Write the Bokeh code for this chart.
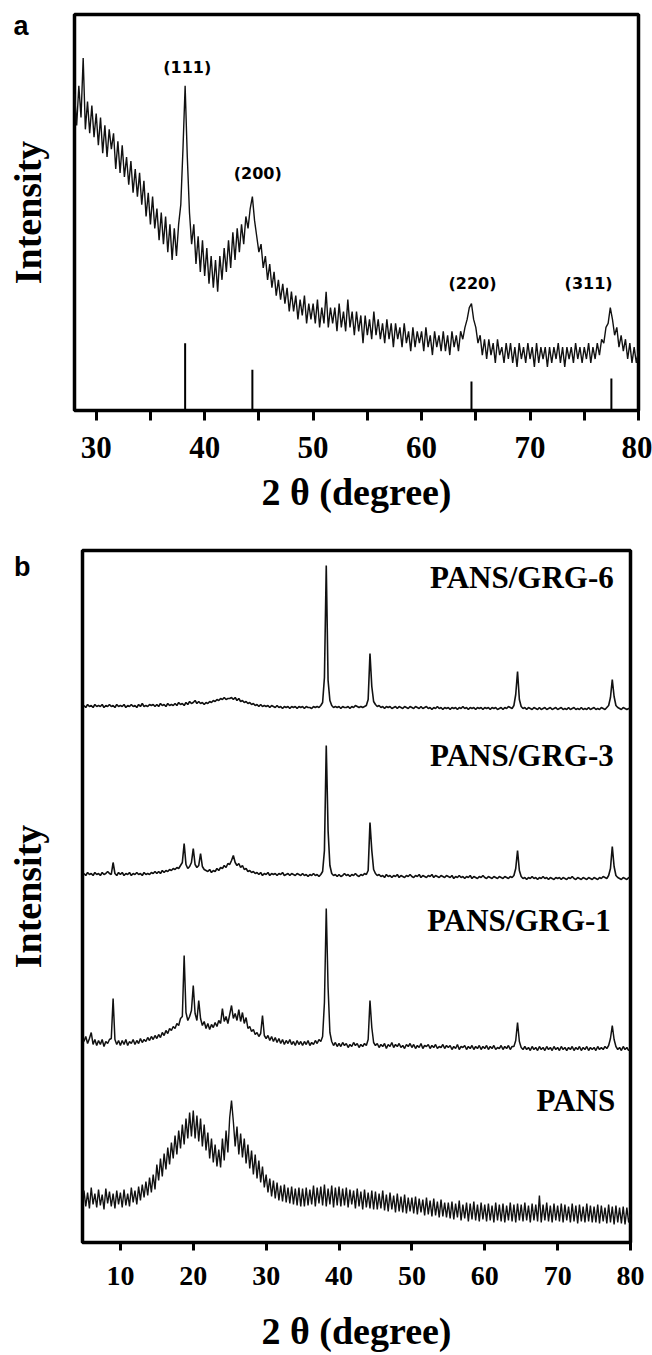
import numpy as np
from bokeh.plotting import figure
from bokeh.models import Range1d, FixedTicker, Label
from bokeh.embed import file_html
from bokeh.resources import INLINE

# ---------------- Panel a data (2theta grid 28..80 step 0.2) ----------------
a_x = np.round(np.arange(28.0, 80.0001, 0.2), 1)
a_y = [
    80, 72, 82, 74, 89, 71, 78, 70, 77, 69,
    75, 67, 74, 65, 72, 64, 71, 66, 70, 61,
    68, 60, 67, 59, 64, 57, 63, 55, 61, 54,
    60, 52, 58, 49, 55, 47, 54, 46, 51, 43,
    50, 42, 49, 40, 47, 38, 46, 39, 47, 52,
    66, 82, 64, 50, 42, 47, 37, 44, 35, 43,
    34, 41, 32, 39, 31, 38, 30, 39, 33, 41,
    35, 43, 36, 45, 38, 46, 40, 47, 42, 49,
    46, 51, 54, 48, 44, 40, 42, 36, 39, 33,
    37, 31, 35, 29, 33, 28, 32, 27, 31, 25,
    30, 25, 29, 23, 28, 24, 29, 22, 27, 23,
    27, 22, 28, 21, 26, 22, 30, 21, 26, 22,
    26, 20, 27, 21, 25, 20, 28, 21, 25, 19,
    25, 20, 24, 17, 24, 19, 23, 18, 25, 19,
    23, 18, 22, 17, 23, 18, 22, 16, 22, 18,
    21, 16, 22, 17, 20, 15, 21, 16, 20, 17,
    20, 15, 21, 16, 19, 14, 20, 16, 19, 15,
    20, 15, 19, 14, 20, 16, 19, 15, 20, 18,
    21, 23, 26, 27, 23, 21, 17, 19, 14, 18,
    13, 18, 14, 17, 12, 18, 14, 16, 12, 17,
    13, 17, 12, 16, 11, 17, 13, 16, 12, 17,
    13, 16, 11, 17, 12, 16, 13, 16, 11, 16,
    12, 16, 13, 17, 12, 16, 11, 16, 13, 16,
    12, 17, 13, 16, 12, 16, 13, 17, 12, 16,
    13, 17, 14, 18, 17, 21, 22, 26, 23, 19,
    21, 16, 19, 15, 18, 13, 17, 12, 16, 12,
    15,
]
# reference (stick) pattern
ref_pos = [38.2, 44.4, 64.6, 77.5]
ref_height = [17.0, 10.3, 7.3, 8.1]
hkl_labels = ["(111)", "(200)", "(220)", "(311)"]
hkl_x = [38.4, 44.9, 64.7, 75.4]
hkl_y = [86.6, 59.8, 32.0, 32.0]

# ---------------- Panel b data (2theta grid 5..80 step 0.25) ----------------
b_x = np.round(np.arange(5.0, 80.0001, 0.25), 2)
grg6 = [
    537, 535, 538, 536, 537, 535, 538, 536, 537, 536, 538, 535, 537, 536, 538, 536, 537, 535, 538, 536,
    537, 536, 538, 535, 537, 536, 538, 536, 537, 535, 538, 536, 539, 536, 537, 536, 538, 537, 538, 536,
    538, 536, 539, 537, 538, 536, 539, 537, 538, 537, 539, 537, 540, 538, 539, 537, 540, 538, 541, 539,
    540, 542, 539, 541, 539, 540, 538, 540, 539, 541, 540, 542, 541, 543, 542, 544, 543, 545, 543, 544,
    544, 545, 543, 545, 542, 544, 541, 542, 540, 541, 539, 540, 538, 539, 537, 538, 536, 538, 536, 537,
    536, 537, 535, 537, 536, 535, 537, 535, 536, 534, 536, 535, 536, 534, 536, 535, 536, 534, 536, 535,
    536, 534, 536, 535, 535, 534, 536, 535, 536, 535, 537, 540, 565, 677, 562, 542, 537, 535, 536, 535,
    536, 534, 536, 535, 535, 536, 534, 536, 535, 537, 536, 535, 536, 535, 536, 537, 543, 589, 556, 541,
    538, 536, 537, 535, 536, 534, 536, 535, 536, 534, 535, 536, 534, 536, 535, 534, 536, 535, 534, 536,
    535, 534, 536, 535, 534, 536, 534, 535, 536, 534, 535, 533, 535, 534, 536, 534, 535, 533, 535, 534,
    535, 533, 535, 534, 535, 533, 535, 534, 536, 534, 535, 533, 535, 534, 535, 533, 535, 534, 535, 533,
    535, 534, 535, 533, 535, 534, 535, 533, 534, 535, 533, 535, 534, 536, 535, 534, 537, 548, 571, 543,
    536, 534, 535, 533, 535, 534, 533, 535, 534, 533, 535, 533, 534, 535, 533, 534, 535, 533, 534, 535,
    533, 534, 535, 533, 534, 533, 535, 533, 534, 535, 533, 534, 533, 535, 533, 534, 533, 535, 533, 534,
    535, 533, 534, 533, 535, 534, 533, 535, 537, 545, 563, 546, 537, 535, 534, 533, 535, 534, 533, 534,
    534,
]
grg3 = [
    369, 367, 370, 368, 369, 367, 370, 368, 369, 367, 370, 368, 369, 371, 369, 368, 380, 369, 367, 370,
    368, 370, 367, 369, 368, 370, 367, 369, 368, 370, 368, 369, 367, 370, 368, 369, 368, 370, 369, 371,
    369, 371, 369, 372, 370, 372, 371, 373, 372, 374, 373, 375, 374, 377, 380, 399, 378, 374, 376, 380,
    394, 378, 375, 377, 389, 376, 373, 372, 371, 373, 370, 372, 371, 374, 372, 375, 374, 377, 375, 379,
    378, 382, 387, 380, 377, 379, 375, 377, 373, 374, 371, 372, 370, 371, 369, 370, 368, 370, 367, 369,
    368, 370, 367, 369, 368, 369, 367, 369, 368, 370, 367, 368, 369, 367, 369, 368, 367, 369, 368, 367,
    369, 367, 368, 366, 368, 367, 369, 367, 368, 366, 368, 371, 392, 497, 412, 377, 369, 367, 368, 366,
    368, 366, 367, 369, 367, 368, 366, 368, 367, 369, 367, 366, 368, 367, 369, 368, 372, 420, 392, 373,
    369, 367, 368, 366, 367, 365, 368, 366, 367, 365, 367, 366, 368, 365, 367, 366, 365, 367, 366, 368,
    366, 365, 367, 366, 368, 365, 367, 366, 365, 367, 366, 368, 365, 367, 366, 365, 367, 366, 365, 367,
    366, 365, 367, 364, 366, 365, 367, 365, 366, 364, 366, 365, 367, 364, 366, 365, 364, 366, 365, 367,
    365, 364, 366, 365, 364, 366, 365, 364, 366, 365, 364, 366, 365, 364, 366, 365, 367, 374, 392, 372,
    366, 364, 365, 363, 365, 364, 366, 364, 365, 363, 365, 364, 366, 364, 365, 363, 365, 364, 363, 365,
    364, 365, 363, 365, 364, 363, 365, 364, 366, 364, 363, 365, 364, 363, 365, 364, 363, 365, 364, 363,
    365, 364, 363, 365, 364, 366, 365, 364, 367, 374, 396, 376, 367, 365, 364, 363, 365, 364, 363, 365,
    364,
]
grg1 = [
    201, 206, 199, 204, 210, 198, 203, 197, 202, 198, 203, 196, 201, 199, 203, 204, 244, 203, 198, 202,
    197, 202, 198, 203, 197, 201, 199, 203, 198, 202, 199, 204, 200, 203, 201, 205, 202, 206, 203, 207,
    204, 208, 205, 210, 207, 212, 209, 214, 212, 216, 214, 219, 217, 224, 226, 287, 230, 222, 226, 232,
    257, 229, 222, 242, 224, 217, 221, 214, 219, 213, 218, 215, 220, 216, 222, 219, 234, 221, 226, 219,
    228, 237, 224, 229, 222, 233, 221, 230, 219, 225, 214, 216, 211, 213, 208, 210, 206, 209, 227, 207,
    204, 207, 202, 206, 201, 205, 200, 204, 199, 203, 198, 202, 199, 203, 198, 201, 197, 202, 198, 201,
    197, 201, 198, 202, 197, 200, 198, 202, 199, 203, 201, 206, 240, 334, 255, 210, 201, 197, 200, 196,
    199, 196, 200, 197, 199, 195, 198, 196, 200, 197, 199, 195, 198, 196, 199, 197, 203, 242, 215, 200,
    197, 199, 195, 198, 196, 199, 194, 198, 196, 200, 195, 198, 196, 199, 195, 197, 194, 198, 196, 199,
    195, 198, 194, 197, 195, 199, 194, 197, 196, 198, 194, 197, 195, 198, 194, 196, 195, 198, 194, 197,
    195, 197, 193, 196, 194, 198, 193, 196, 195, 197, 193, 196, 194, 197, 193, 196, 194, 197, 193, 196,
    194, 197, 193, 196, 194, 197, 193, 195, 194, 197, 193, 196, 194, 197, 193, 196, 196, 202, 220, 201,
    195, 193, 196, 193, 195, 192, 196, 193, 195, 192, 196, 193, 195, 192, 196, 193, 195, 192, 196, 193,
    195, 192, 196, 193, 195, 192, 195, 193, 196, 192, 195, 193, 196, 192, 195, 193, 196, 192, 195, 193,
    195, 192, 196, 193, 195, 193, 196, 194, 197, 204, 217, 203, 196, 193, 195, 192, 196, 193, 195, 192,
    194,
]
pans = [
    52, 36, 50, 34, 55, 38, 49, 35, 53, 37, 48, 33, 54, 39, 51, 36, 49, 34, 52, 38,
    50, 35, 53, 37, 49, 36, 55, 40, 52, 38, 56, 42, 58, 45, 61, 47, 65, 50, 68, 53,
    78, 62, 84, 66, 89, 73, 95, 78, 100, 84, 107, 88, 112, 94, 118, 98, 124, 104, 130, 106,
    132, 104, 127, 101, 124, 96, 118, 92, 110, 84, 104, 80, 98, 76, 93, 75, 104, 82, 112, 90,
    125, 142, 121, 96, 116, 88, 109, 85, 104, 79, 98, 74, 92, 68, 88, 64, 82, 60, 76, 55,
    68, 50, 64, 46, 62, 44, 60, 42, 57, 41, 58, 40, 55, 39, 56, 38, 54, 37, 55, 36,
    54, 36, 55, 37, 53, 38, 57, 36, 55, 39, 56, 37, 58, 36, 54, 38, 57, 35, 55, 37,
    56, 36, 54, 37, 55, 35, 53, 38, 52, 34, 54, 36, 51, 33, 53, 35, 50, 34, 52, 33,
    51, 33, 49, 34, 52, 32, 48, 31, 50, 33, 47, 30, 49, 31, 46, 30, 48, 29, 45, 31,
    45, 29, 46, 28, 44, 30, 43, 27, 45, 28, 42, 26, 44, 27, 41, 25, 43, 26, 40, 25,
    40, 24, 41, 23, 39, 25, 42, 22, 38, 24, 40, 21, 39, 23, 41, 22, 38, 21, 40, 23,
    38, 21, 39, 22, 37, 20, 40, 22, 38, 21, 39, 20, 37, 22, 40, 21, 38, 20, 39, 22,
    38, 21, 40, 22, 37, 20, 39, 22, 38, 21, 47, 20, 38, 22, 40, 21, 37, 20, 39, 22,
    37, 21, 39, 20, 38, 22, 36, 20, 39, 21, 37, 19, 38, 21, 36, 20, 39, 21, 37, 20,
    36, 20, 38, 19, 37, 21, 35, 19, 38, 20, 36, 18, 37, 20, 35, 19, 36, 18, 35, 20,
    28,
]
b_names = ["PANS/GRG-6", "PANS/GRG-3", "PANS/GRG-1", "PANS"]
b_label_x = [77.7, 77.7, 77.3, 77.9]
b_label_y = [665, 487, 322, 142]

a_ticks = [30, 40, 50, 60, 70, 80]
a_minor = [35, 45, 55, 65, 75]
b_ticks = [10, 20, 30, 40, 50, 60, 70, 80]
panel_letter_y = {"a": 97, "b": 676}

SERIF = "Liberation Serif"
LINE = "#111111"
X_TITLE = "2 θ (degree)"
Y_TITLE = "Intensity"


def style(p, letter, letter_y, letter_standoff, ylab_standoff,
          tick_standoff, tick_size, tick_len, xlab_standoff):
    p.outline_line_color = "black"
    p.outline_line_width = 3.5
    p.xgrid.grid_line_color = None
    p.ygrid.grid_line_color = None
    p.background_fill_color = "white"
    p.border_fill_color = "white"

    ax = p.xaxis[0]
    ax.axis_line_color = None
    ax.major_tick_in = 0
    ax.major_tick_out = tick_len
    ax.major_tick_line_width = 3
    ax.major_tick_line_color = "black"
    ax.minor_tick_in = 0
    ax.minor_tick_out = tick_len
    ax.minor_tick_line_width = 3
    ax.minor_tick_line_color = "black"
    ax.major_label_text_font = SERIF
    ax.major_label_text_font_style = "bold"
    ax.major_label_text_font_size = tick_size
    ax.major_label_text_color = "black"
    ax.major_label_standoff = tick_standoff
    ax.axis_label = X_TITLE
    ax.axis_label_text_font = SERIF
    ax.axis_label_text_font_style = "bold"
    ax.axis_label_text_font_size = "38px"
    ax.axis_label_text_line_height = 1.0
    ax.axis_label_text_color = "black"
    ax.axis_label_standoff = xlab_standoff

    ay = p.yaxis[0]
    ay.ticker = FixedTicker(ticks=[letter_y], minor_ticks=[])
    ay.major_label_overrides = {letter_y: letter}
    ay.axis_line_color = None
    ay.major_tick_in = 0
    ay.major_tick_out = 0
    ay.minor_tick_in = 0
    ay.minor_tick_out = 0
    ay.major_label_text_font = "Liberation Sans"
    ay.major_label_text_font_style = "bold"
    ay.major_label_text_font_size = "27px"
    ay.major_label_text_color = "black"
    ay.major_label_standoff = letter_standoff
    ay.axis_label = Y_TITLE
    ay.axis_label_text_font = SERIF
    ay.axis_label_text_font_style = "bold"
    ay.axis_label_text_font_size = "38px"
    ay.axis_label_text_color = "black"
    ay.axis_label_standoff = ylab_standoff


def text(p, x, y, s, size, font=SERIF, align="center"):
    p.add_layout(Label(x=x, y=y, text=s, text_font=font, text_font_size=size,
                       text_font_style="bold", text_align=align, text_baseline="middle",
                       text_color="black"))


# ---------------- Panel a ----------------
pa = figure(width=652, height=526, output_backend="svg", toolbar_location=None,
            x_range=Range1d(28, 80), y_range=Range1d(0, 100),
            min_border_left=74, min_border_right=14, min_border_top=14, min_border_bottom=116)
style(pa, "a", panel_letter_y["a"], 46, -39, 16, "31px", 10, 10)
pa.xaxis.ticker = FixedTicker(ticks=a_ticks, minor_ticks=a_minor)
pa.line(a_x, a_y, line_color=LINE, line_width=1.4)
pa.segment(x0=ref_pos, y0=[0] * len(ref_pos), x1=ref_pos, y1=ref_height,
           line_color="black", line_width=2)
for s, x, y in zip(hkl_labels, hkl_x, hkl_y):
    text(pa, x, y, s, "16px", font="DejaVu Sans")

# ---------------- Panel b ----------------
pb = figure(width=652, height=829, output_backend="svg", toolbar_location=None,
            x_range=Range1d(4.8, 80), y_range=Range1d(0, 692),
            min_border_left=82, min_border_right=22, min_border_top=24, min_border_bottom=113)
style(pb, "b", panel_letter_y["b"], 52, -38, 16, "28px", 8, 22)
pb.xaxis.ticker = FixedTicker(ticks=b_ticks)
for ys, w in ((grg6, 1.6), (grg3, 1.6), (grg1, 1.5), (pans, 1.4)):
    pb.line(b_x, ys, line_color=LINE, line_width=w)
for s, x, y in zip(b_names, b_label_x, b_label_y):
    text(pb, x, y, s, "31px", align="right")

open("out.html", "w").write(file_html([pa, pb], INLINE))
